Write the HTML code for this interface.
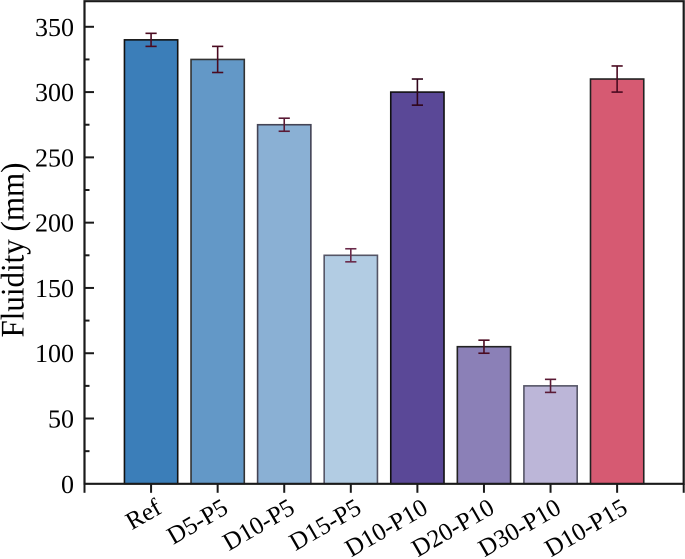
<!DOCTYPE html>
<html>
<head>
<meta charset="utf-8">
<style>
html,body{margin:0;padding:0;background:#fff;width:685px;height:559px;overflow:hidden}
svg{display:block}
text{font-family:"Liberation Serif",serif;fill:#000;text-rendering:geometricPrecision}
</style>
</head>
<body>
<svg id="chart" width="685" height="559" viewBox="0 0 685 559" xmlns="http://www.w3.org/2000/svg"></svg>
<script>
const categories = ['Ref','D5-P5','D10-P5','D15-P5','D10-P10','D20-P10','D30-P10','D10-P15'];
const fluidity = [340,325,275,175,300,105,75,310];
const errors = [5,10,5,5,10,5,5,10];
const barColors = ['#3b7eb9','#6398c7','#8ab0d4','#b2cce3','#5a4897','#8b80b7','#bcb6d8','#d65a72'];
const barEdges = ['#111','#333','#445','#556','#111','#222','#556','#222'];
const errorColors = ['#4a0a20','#4a0a20','#5a1a35','#6a2a4a','#30051a','#4a0a20','#5a1a35','#4a0a20'];
const yTicks = [0,50,100,150,200,250,300,350];
const yMinorTicks = [25,75,125,175,225,275,325];

const NS = 'http://www.w3.org/2000/svg';
const svg = document.getElementById('chart');
const left = 84.5, right = 683.7, top_ = 1.2, bottom = 483.8;
const yPerUnit = (483.8 - 26.8) / 350;
const xStep = (right - left) / 9;
const xScale = i => left + xStep * (i + 1);
const yScale = v => bottom - v * yPerUnit;
const barWidth = xStep * 0.8;

function add(tag, attrs, parent, txt) {
  const el = document.createElementNS(NS, tag);
  for (const k in attrs) el.setAttribute(k, attrs[k]);
  if (txt !== undefined) el.textContent = txt;
  (parent || svg).appendChild(el);
  return el;
}

const barsGroup = add('g', {});


categories.forEach((c, i) => {
  const x = xScale(i), y = yScale(fluidity[i]);
  const bar = add('rect', {x: x - barWidth / 2, y: y, width: barWidth, height: bottom - y, fill: barColors[i], stroke: barEdges[i], 'stroke-width': 1.6}, barsGroup);
  
  
});

const errGroup = add('g', {});


categories.forEach((c, i) => {
  const x = xScale(i);
  const y1 = yScale(fluidity[i] + errors[i]), y2 = yScale(fluidity[i] - errors[i]);
  const g = add('g', {stroke: errorColors[i], 'stroke-width': 1.6, fill: 'none'}, errGroup);
  
  
  add('line', {x1: x, x2: x, y1: y1, y2: y2}, g);
  add('line', {x1: x - 5.6, x2: x + 5.6, y1: y1, y2: y1}, g);
  add('line', {x1: x - 5.6, x2: x + 5.6, y1: y2, y2: y2}, g);
});

const axes = add('g', {stroke: '#1a1a1a', fill: 'none'});


const frame = add('path', {d: `M${left} ${bottom}V${top_}H${right}V${bottom}Z`, 'stroke-width': 2.2}, axes);



yTicks.forEach(v => {
  const y = yScale(v);
  if (v > 0) {
    const t = add('line', {x1: left, x2: left + 9.5, y1: y, y2: y, 'stroke-width': 2}, axes);
    
    
  }
  const label = add('text', {x: 74, y: y + 9, 'text-anchor': 'end', 'font-size': 26}, svg, String(v));
  
  
});
yMinorTicks.forEach(v => {
  const y = yScale(v);
  const t = add('line', {x1: left, x2: left + 5, y1: y, y2: y, 'stroke-width': 2}, axes);
  
  
});

[left, right].forEach((x, n) => {
  const t = add('line', {x1: x, x2: x, y1: bottom, y2: bottom + 9, 'stroke-width': 2}, axes);
  
  
});
categories.forEach((c, i) => {
  const x = xScale(i);
  const t = add('line', {x1: x, x2: x, y1: bottom, y2: bottom + 9, 'stroke-width': 2}, axes);
  
  
  const lx = x + 12, ly = bottom + 28.5;
  const label = add('text', {x: lx, y: ly, 'text-anchor': 'end', 'font-size': 25, transform: `rotate(-30 ${lx} ${ly})`}, svg, c);
  
  
});

const title = add('text', {x: 23.5, y: 250, 'text-anchor': 'middle', 'font-size': 33, textLength: 175, lengthAdjust: 'spacingAndGlyphs', transform: 'rotate(-90 23.5 250)'}, svg, 'Fluidity (mm)');


</script>
</body>
</html>
